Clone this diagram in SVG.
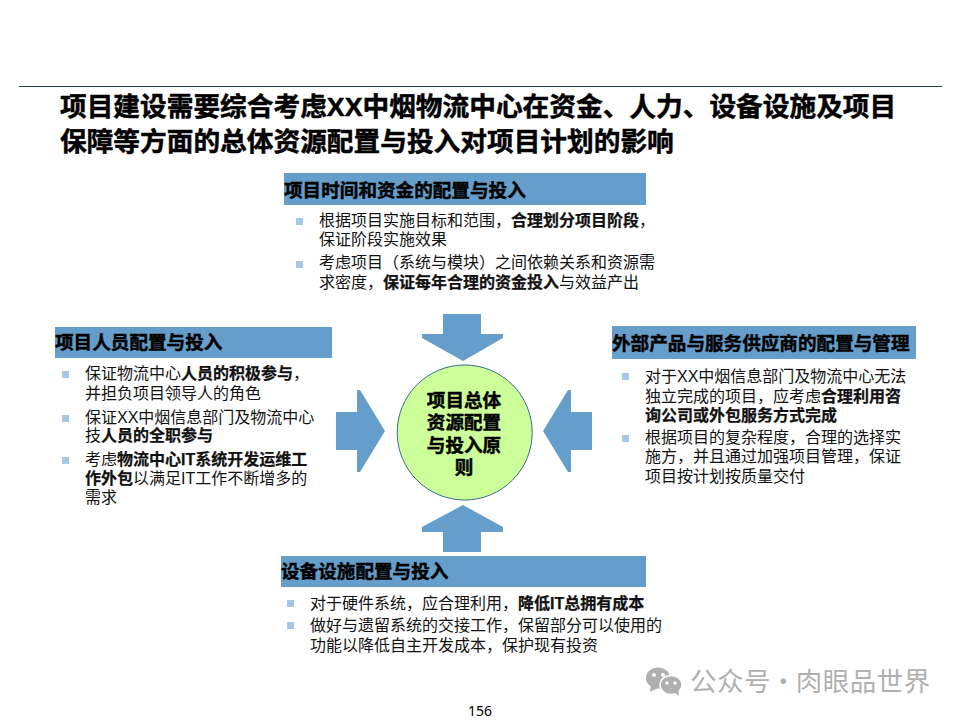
<svg xmlns="http://www.w3.org/2000/svg" width="960" height="720" viewBox="0 0 960 720">
<defs>
<style>
text{font-family:"Liberation Sans","Noto Sans CJK SC",sans-serif;fill:#000}
.t{font-size:26.7px;font-weight:700;stroke:#000;stroke-width:.5px}
.h{font-size:18.6px;font-weight:700;stroke:#000;stroke-width:.45px}
.b{font-size:16px;fill:#111}
.b .s{font-weight:700;stroke:#111;stroke-width:.25px}
.bar{fill:#669ecb}
.sq{fill:#a6c8e4}
.c{font-size:18.6px;font-weight:700;text-anchor:middle;stroke:#000;stroke-width:.45px}
</style>
</defs>
<rect width="960" height="720" fill="#fff"/>
<line x1="19" y1="86.5" x2="942" y2="86.5" stroke="#1f3f5f" stroke-width="1"/>
<g id="title">
<text class="t" x="60" y="116">项目建设需要综合考虑XX中烟物流中心在资金、人力、设备设施及项目</text>
<text class="t" x="60" y="151">保障等方面的总体资源配置与投入对项目计划的影响</text>
</g>
<g id="connectors">
<polygon class="bar" points="443,314 481,314 481,334 503,334 503,338 463,361 422,338 422,334 443,334"/>
<polygon class="bar" points="443,552 481,552 481,532 503,532 503,527 463,505 422,527 422,532 443,532"/>
<polygon class="bar" points="336,412 357,412 357,390 360,390 385,431 360,472 357,472 357,450 336,450"/>
<polygon class="bar" points="592,412 571,412 571,390 568,390 543,431 568,472 571,472 571,450 592,450"/>
</g>
<g id="node-top">
<rect class="bar" x="284" y="173" width="362" height="32"/>
<text class="h" x="284" y="197">项目时间和资金的配置与投入</text>
<rect class="sq" x="296" y="218" width="7" height="7"/>
<text class="b" x="319" y="226">根据项目实施目标和范围，<tspan class="s">合理划分项目阶段</tspan>，</text>
<text class="b" x="319" y="245">保证阶段实施效果</text>
<rect class="sq" x="296" y="261" width="7" height="7"/>
<text class="b" x="319" y="268">考虑项目（系统与模块）之间依赖关系和资源需</text>
<text class="b" x="319" y="288">求密度，<tspan class="s">保证每年合理的资金投入</tspan>与效益产出</text>
</g>
<g id="node-left">
<rect class="bar" x="55" y="327" width="277" height="31"/>
<text class="h" x="55" y="349">项目人员配置与投入</text>
<rect class="sq" x="62" y="371" width="7" height="7"/>
<text class="b" x="85" y="379">保证物流中心<tspan class="s">人员的积极参与</tspan>，</text>
<text class="b" x="85" y="399">并担负项目领导人的角色</text>
<rect class="sq" x="62" y="415" width="7" height="7"/>
<text class="b" x="85" y="423">保证XX中烟信息部门及物流中心</text>
<text class="b" x="85" y="441">技<tspan class="s">人员的全职参与</tspan></text>
<rect class="sq" x="62" y="457" width="7" height="7"/>
<text class="b" x="85" y="465">考虑<tspan class="s">物流中心IT系统开发运维工</tspan></text>
<text class="b" x="85" y="484"><tspan class="s">作外包</tspan>以满足IT工作不断增多的</text>
<text class="b" x="85" y="503">需求</text>
</g>
<g id="node-right">
<rect class="bar" x="612" y="326" width="304" height="33"/>
<text class="h" x="612" y="350">外部产品与服务供应商的配置与管理</text>
<rect class="sq" x="622" y="373" width="7" height="7"/>
<text class="b" x="645" y="382">对于XX中烟信息部门及物流中心无法</text>
<text class="b" x="645" y="402">独立完成的项目，应考虑<tspan class="s">合理利用咨</tspan></text>
<text class="b" x="645" y="421"><tspan class="s">询公司或外包服务方式完成</tspan></text>
<rect class="sq" x="622" y="435" width="7" height="7"/>
<text class="b" x="645" y="443">根据项目的复杂程度，合理的选择实</text>
<text class="b" x="645" y="462">施方，并且通过加强项目管理，保证</text>
<text class="b" x="645" y="482">项目按计划按质量交付</text>
</g>
<g id="node-bottom">
<rect class="bar" x="281" y="556" width="365" height="31"/>
<text class="h" x="281" y="578">设备设施配置与投入</text>
<rect class="sq" x="287" y="600" width="7" height="7"/>
<text class="b" x="310" y="609">对于硬件系统，应合理利用，<tspan class="s">降低IT总拥有成本</tspan></text>
<rect class="sq" x="287" y="622" width="7" height="7"/>
<text class="b" x="310" y="631">做好与遗留系统的交接工作，保留部分可以使用的</text>
<text class="b" x="310" y="651">功能以降低自主开发成本，保护现有投资</text>
</g>
<g id="node-center">
<circle cx="464.700" cy="432.500" r="67.500" fill="#ccff99" stroke="#3b6a8f" stroke-width="1"/>
<text class="c" x="464" y="407">项目总体</text>
<text class="c" x="464" y="429">资源配置</text>
<text class="c" x="464" y="452">与投入原</text>
<text class="c" x="464" y="474">则</text>
</g>
<text x="480" y="716" font-size="14" text-anchor="middle" style="font-family:'Noto Sans','Liberation Sans',sans-serif">156</text>
<g id="watermark">
<ellipse cx="658" cy="678" rx="12" ry="10.500" fill="#b0b0b0"/>
<polygon points="651,685 650,692 658,688" fill="#b0b0b0"/>
<circle cx="654" cy="675" r="2" fill="#fff"/><circle cx="663" cy="675" r="2" fill="#fff"/>
<ellipse cx="671" cy="685" rx="11" ry="9.500" fill="#b0b0b0" stroke="#fff" stroke-width="1.500"/>
<polygon points="675,693 679,696 678,690" fill="#b0b0b0"/>
<circle cx="667" cy="683" r="1.700" fill="#fff"/><circle cx="675" cy="683" r="1.700" fill="#fff"/>
<text x="690" y="691" font-size="26.500" letter-spacing="0.500" word-spacing="-7.500" style="fill:#b0b0b0;font-family:'Noto Sans CJK SC',sans-serif">公众号 · 肉眼品世界</text>
</g>
</svg>
